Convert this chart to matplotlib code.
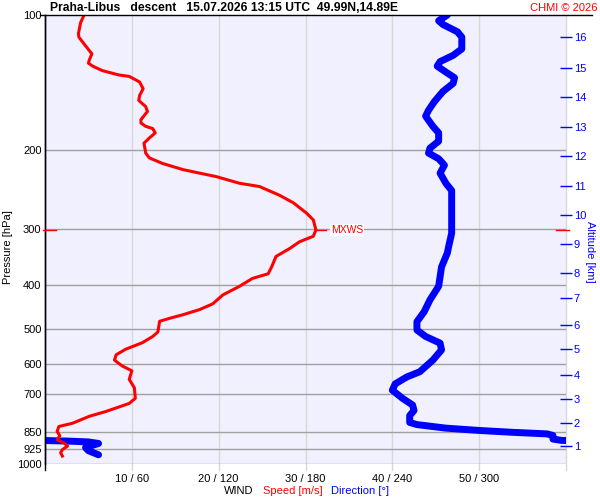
import numpy as np
import matplotlib
matplotlib.use('Agg')
import matplotlib.pyplot as plt

plt.rcParams['font.family'] = ['Liberation Sans', 'DejaVu Sans']

# wind speed profile (pressure hPa, speed m/s)
speed_p = [100, 104, 110, 112, 116, 120, 122, 126, 128, 130, 133, 136, 137, 141, 146,
           151, 155, 160, 164, 171, 174, 177, 179, 183, 188, 193, 203, 208, 214, 221,
           225, 229, 234, 237, 241, 252, 262, 276, 286, 301, 311, 320, 331, 345, 364,
           377, 386, 402, 420, 440, 453, 465, 474, 481, 508, 520, 537, 555, 571, 587,
           605, 620, 648, 677, 714, 733, 764, 783, 811, 825, 846, 865, 883, 898, 912,
           929, 944, 960]
speed = [4.5, 4.1, 3.85, 3.9, 4.5, 5.1, 5.4, 5.1, 5.0, 5.5, 6.6, 8.5, 9.7, 10.9, 11.3,
         10.9, 10.8, 11.6, 11.8, 11.05, 11.05, 11.6, 12.4, 12.7, 12.0, 11.4, 11.6, 12.0, 13.5, 15.9,
         17.8, 19.7, 21.4, 22.4, 24.7, 27.0, 28.6, 30.1, 30.9, 31.2, 30.9, 29.3, 28.2, 26.6, 26.1,
         25.7, 23.9, 22.4, 20.5, 19.3, 17.8, 15.9, 14.3, 13.2, 13.0, 12.4, 11.2, 9.3, 8.2, 8.0,
         8.9, 10.0, 9.7, 10.3, 10.4, 9.7, 7.0, 5.1, 3.2, 1.6, 1.4, 1.7, 1.4, 2.2, 2.6,
         2.0, 1.8, 2.0]

# wind direction profile (pressure hPa, direction deg)
dir_p = [100, 103, 105, 109, 112, 119, 123, 127, 130, 134, 138, 142, 148, 156, 163,
         168, 177, 183, 191, 198, 203, 209, 216, 225, 237, 246, 276, 306, 327, 339,
         364, 402, 431, 458, 482, 503, 520, 538, 557, 587, 623, 640, 663, 685, 714,
         739, 760, 780, 808, 817, 832, 842, 850, 857, 864, 880, 886, 889, 893, 900,
         919, 934, 954]
direction = [278, 272, 275, 285, 288, 288, 282, 273, 271, 277, 283, 282, 275, 269, 265,
             263, 268, 272, 272, 266, 265, 272, 276, 273, 277, 281, 281, 281, 279, 278,
             274, 272, 266, 262, 257, 257, 263, 273, 274, 268, 259, 250, 242, 240, 247,
             254, 255, 252, 252, 257, 277, 300, 323, 347, 351, 351, 357, 15, 30, 37,
             28, 30, 37]

p_levels = [100, 200, 300, 400, 500, 600, 700, 850, 925, 1000]
speed_ticks = [10, 20, 30, 40, 50]
speed_labels = ['10 / 60', '20 / 120', '30 / 180', '40 / 240', '50 / 300']

# altitude (km) vs pressure (hPa) for right axis
alt_km = [1, 2, 3, 4, 5, 6, 7, 8, 9, 10, 11, 12, 13, 14, 15, 16]
alt_p = [912, 811, 717, 633, 554, 490, 427, 375, 324, 279, 240, 206, 178, 152, 131, 112]

RED = '#ff0000'
BLUE = '#0000ff'
FS = 8

fig = plt.figure(figsize=(6, 5), dpi=100)
ax = fig.add_axes([45 / 600, 36 / 500, 521 / 600, 449 / 500])
ax.set_facecolor('#f0f0ff')
ax.set_yscale('log')
ax.set_ylim(1000, 100)
ax.set_xlim(0, 60)

for s in ['top', 'bottom', 'right']:
    ax.spines[s].set_visible(False)
ax.spines['left'].set_color('black')
ax.spines['left'].set_linewidth(1)

# grid
for x in speed_ticks + [60]:
    ax.axvline(x, ymin=-0.013, ymax=1, color='#d8d8d8', lw=1, clip_on=False, zorder=1)
ax.hlines(p_levels[1:], 0, 60, color='#a0a0a0', lw=1, zorder=2)
ax.axhline(100, xmin=-0.01, xmax=1.05, color='black', lw=1, clip_on=False, zorder=5)
ax.axvline(0, ymin=-0.013, ymax=1, color='black', lw=1, clip_on=False, zorder=5)

ax.set_yticks(p_levels)
ax.set_yticklabels([str(p) for p in p_levels])
ax.yaxis.set_minor_locator(matplotlib.ticker.NullLocator())
ax.tick_params(axis='y', length=0, pad=2.5, labelsize=FS)
ax.set_xticks(speed_ticks)
ax.set_xticklabels(speed_labels)
ax.tick_params(axis='x', length=0, pad=7, labelsize=FS)

# direction (wraps around 360)
d_unw = np.rad2deg(np.unwrap(np.deg2rad(direction)))
for shift in [0, -360]:
    ax.plot((d_unw + shift) / 6.0, dir_p, color=BLUE, lw=5, solid_capstyle='round',
            solid_joinstyle='round', zorder=3)

# speed
ax.plot(speed, speed_p, color=RED, lw=2.2, zorder=4)

# max wind
imax = int(np.argmax(speed))
smax, pmax = speed[imax], speed_p[imax]
ax.plot([smax, smax + 1.2], [pmax, pmax], color=RED, lw=1, zorder=4)
ax.text(smax + 1.7, pmax, 'MXWS', color=RED, fontsize=7.5, va='center', ha='left',
        bbox=dict(facecolor='white', edgecolor='none', pad=0.5), zorder=4)
tr = ax.get_yaxis_transform()
ax.plot([-0.004, 0.021], [pmax, pmax], color=RED, lw=1, transform=tr, clip_on=False, zorder=6)
ax.plot([0.98, 1.005], [pmax, pmax], color=RED, lw=1, transform=tr, clip_on=False, zorder=6)

# altitude axis
ax2 = ax.twinx()
ax2.set_yscale('log')
ax2.set_ylim(1000, 100)
for s in ax2.spines.values():
    s.set_visible(False)
ax2.set_yticks(alt_p)
ax2.set_yticklabels([str(k) for k in alt_km])
ax2.yaxis.set_minor_locator(matplotlib.ticker.NullLocator())
ax2.tick_params(axis='y', direction='inout', length=8, width=1, color=BLUE,
                labelcolor=BLUE, labelsize=FS, pad=1.5)

# texts
fig.text(50 / 600, 1 - 8 / 500, 'Praha-Libus   descent   15.07.2026 13:15 UTC  49.99N,14.89E',
         fontsize=8.7, fontweight='bold', ha='left', va='center')
fig.text(597 / 600, 1 - 8 / 500, 'CHMI © 2026', color=RED, fontsize=FS, ha='right', va='center')
fig.text(8 / 600, 1 - 247 / 500, 'Pressure [hPa]', rotation=90, fontsize=FS,
         ha='center', va='center')
fig.text(590 / 600, 1 - 252 / 500, 'Altitude [km]', rotation=270, color=BLUE, fontsize=FS,
         ha='center', va='center')
fig.text(239 / 600, 1 - 491 / 500, 'WIND', fontsize=FS, ha='center', va='center')
fig.text(293 / 600, 1 - 491 / 500, 'Speed [m/s]', color=RED, fontsize=FS, ha='center', va='center')
fig.text(360 / 600, 1 - 491 / 500, 'Direction [°]', color=BLUE, fontsize=FS, ha='center', va='center')

fig.savefig('out.png', dpi=100, facecolor='white')
